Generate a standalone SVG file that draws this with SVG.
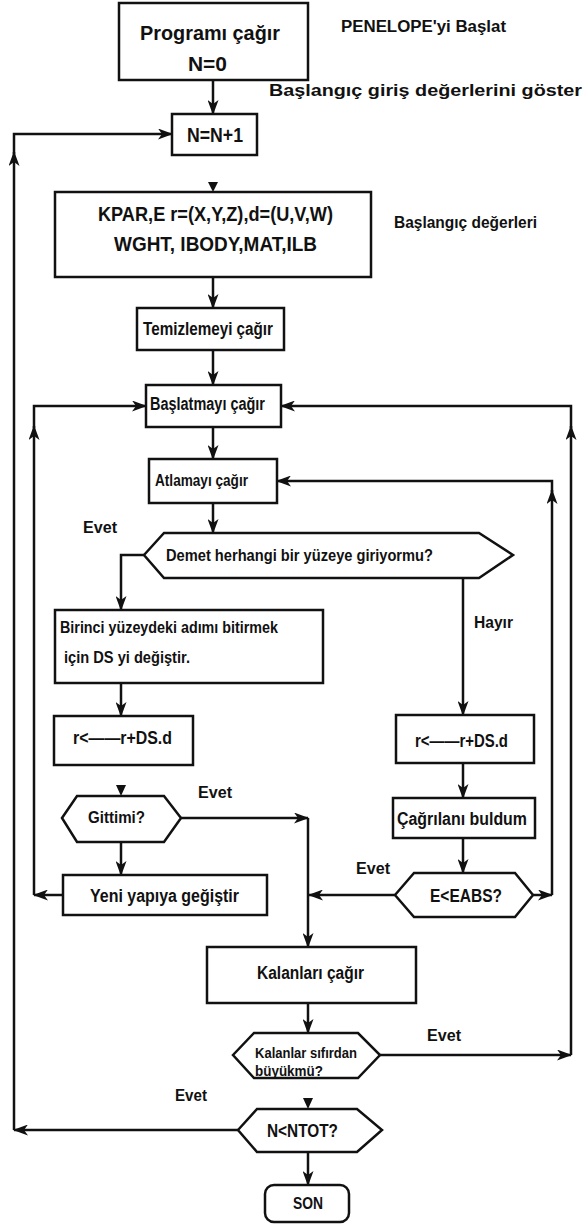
<svg xmlns="http://www.w3.org/2000/svg" width="585" height="1225" viewBox="0 0 585 1225">
<defs>
<style>
.b{fill:#fff;stroke:#111;stroke-width:2.5}
.t{font-family:"Liberation Sans",Arial,sans-serif;font-weight:bold;fill:#111}
.c{fill:none;stroke:#111;stroke-width:2.5}
.s{fill:#111}
</style>
<marker id="a" markerUnits="userSpaceOnUse" markerWidth="15" markerHeight="11" refX="14" refY="5.5" orient="auto">
<path d="M0,0 L15,5.5 L0,11 L4,5.5 Z" fill="#111"/>
</marker>
</defs>
<rect width="585" height="1225" fill="#fff"/>
<g id="connectors">
<path class="c" d="M213,80 V114" marker-end="url(#a)"/>
<path class="s" d="M208,182 H218 L213,192 Z"/>
<path class="c" d="M213,277 V308" marker-end="url(#a)"/>
<path class="c" d="M213,350 V385" marker-end="url(#a)"/>
<path class="c" d="M213,427 V459" marker-end="url(#a)"/>
<path class="c" d="M213,503 V533" marker-end="url(#a)"/>
<path class="c" d="M144,555 H121 V610" marker-end="url(#a)"/>
<path class="c" d="M121,683 V716" marker-end="url(#a)"/>
<path class="s" d="M116,785 H126 L121,796 Z"/>
<path class="c" d="M121,842 V875" marker-end="url(#a)"/>
<path class="c" d="M63,895 H34" marker-end="url(#a)"/>
<path class="c" d="M34,895 V426" marker-end="url(#a)"/>
<path class="c" d="M34,428 V406 H146" marker-end="url(#a)"/>
<path class="c" d="M181,818 H308" marker-end="url(#a)"/>
<path class="c" d="M308,818 V947" marker-end="url(#a)"/>
<path class="c" d="M463,578 V715" marker-end="url(#a)"/>
<path class="c" d="M463,763 V798" marker-end="url(#a)"/>
<path class="c" d="M463,838 V873" marker-end="url(#a)"/>
<path class="c" d="M533,895 H552" marker-end="url(#a)"/>
<path class="c" d="M552,895 V490" marker-end="url(#a)"/>
<path class="c" d="M552,492 V481 H277" marker-end="url(#a)"/>
<path class="c" d="M395,895 H309" marker-end="url(#a)"/>
<path class="c" d="M308,1003 V1033" marker-end="url(#a)"/>
<path class="c" d="M380,1055 H571" marker-end="url(#a)"/>
<path class="c" d="M571,1055 V426" marker-end="url(#a)"/>
<path class="c" d="M571,428 V406 H281" marker-end="url(#a)"/>
<path class="s" d="M303,1098 H313 L308,1109 Z"/>
<path class="c" d="M238,1130 H14" marker-end="url(#a)"/>
<path class="c" d="M14,1130 V152" marker-end="url(#a)"/>
<path class="c" d="M14,154 V134 H172" marker-end="url(#a)"/>
<path class="c" d="M308,1152 V1185" marker-end="url(#a)"/>
</g>
<g id="labels">
<text class="t" x="341" y="32" font-size="16" textLength="165" lengthAdjust="spacingAndGlyphs">PENELOPE'yi Başlat</text>
<text class="t" x="269" y="96" font-size="17" textLength="313" lengthAdjust="spacingAndGlyphs">Başlangıç giriş değerlerini göster</text>
<text class="t" x="394" y="228" font-size="17" textLength="143" lengthAdjust="spacingAndGlyphs">Başlangıç değerleri</text>
<text class="t" x="83" y="533" font-size="17" textLength="34" lengthAdjust="spacingAndGlyphs">Evet</text>
<text class="t" x="474" y="628" font-size="17" textLength="39" lengthAdjust="spacingAndGlyphs">Hayır</text>
<text class="t" x="198" y="798" font-size="17" textLength="34" lengthAdjust="spacingAndGlyphs">Evet</text>
<text class="t" x="356" y="874" font-size="17" textLength="34" lengthAdjust="spacingAndGlyphs">Evet</text>
<text class="t" x="427" y="1041" font-size="17" textLength="34" lengthAdjust="spacingAndGlyphs">Evet</text>
<text class="t" x="175" y="1101" font-size="17" textLength="32" lengthAdjust="spacingAndGlyphs">Evet</text>
</g>
<g id="n1">
<rect class="b" x="119" y="3" width="189" height="77"/>
<text class="t" x="140" y="39.5" font-size="21" textLength="140" lengthAdjust="spacingAndGlyphs">Programı çağır</text>
<text class="t" x="188" y="70.5" font-size="21" textLength="39" lengthAdjust="spacingAndGlyphs">N=0</text>
</g>
<g id="n2">
<rect class="b" x="172" y="114" width="85" height="41"/>
<text class="t" x="187" y="142" font-size="20" textLength="56" lengthAdjust="spacingAndGlyphs">N=N+1</text>
</g>
<g id="n3">
<rect class="b" x="55" y="192" width="316" height="85"/>
<text class="t" x="98" y="220.5" font-size="21" textLength="235" lengthAdjust="spacingAndGlyphs">KPAR,E r=(X,Y,Z),d=(U,V,W)</text>
<text class="t" x="114" y="250.5" font-size="21" textLength="203" lengthAdjust="spacingAndGlyphs">WGHT, IBODY,MAT,ILB</text>
</g>
<g id="n4">
<rect class="b" x="137" y="308" width="147" height="42"/>
<text class="t" x="143" y="334.5" font-size="18" textLength="130" lengthAdjust="spacingAndGlyphs">Temizlemeyi çağır</text>
</g>
<g id="n5">
<rect class="b" x="146" y="385" width="135" height="42"/>
<text class="t" x="150" y="409.5" font-size="18" textLength="115" lengthAdjust="spacingAndGlyphs">Başlatmayı çağır</text>
</g>
<g id="n6">
<rect class="b" x="149" y="459" width="128" height="44"/>
<text class="t" x="155" y="486" font-size="17" textLength="93" lengthAdjust="spacingAndGlyphs">Atlamayı çağır</text>
</g>
<g id="n7">
<polygon class="b" points="144,555 164,533 479,533 513,555 479,578 164,578"/>
<text class="t" x="166" y="561" font-size="17" textLength="267" lengthAdjust="spacingAndGlyphs">Demet herhangi bir  yüzeye giriyormu?</text>
</g>
<g id="n8">
<rect class="b" x="55" y="610" width="268" height="73"/>
<text class="t" x="60" y="633" font-size="16" textLength="218" lengthAdjust="spacingAndGlyphs">Birinci yüzeydeki adımı bitirmek</text>
<text class="t" x="64" y="663" font-size="16" textLength="126" lengthAdjust="spacingAndGlyphs">için DS yi değiştir.</text>
</g>
<g id="n9">
<rect class="b" x="54" y="716" width="139" height="49"/>
<text class="t" x="73" y="743.5" font-size="18" textLength="99" lengthAdjust="spacingAndGlyphs">r&lt;——r+DS.d</text>
</g>
<g id="n10">
<rect class="b" x="396" y="715" width="138" height="48"/>
<text class="t" x="415" y="746.5" font-size="18" textLength="93" lengthAdjust="spacingAndGlyphs">r&lt;——r+DS.d</text>
</g>
<g id="n11">
<polygon class="b" points="62,818 77,796 164,796 181,818 164,842 77,842"/>
<text class="t" x="88" y="823" font-size="17" textLength="57" lengthAdjust="spacingAndGlyphs">Gittimi?</text>
</g>
<g id="n12">
<rect class="b" x="393" y="798" width="142" height="40"/>
<text class="t" x="397" y="824.5" font-size="18" textLength="130" lengthAdjust="spacingAndGlyphs">Çağrılanı buldum</text>
</g>
<g id="n13">
<polygon class="b" points="395,895 414,873 515,873 533,895 515,917 414,917"/>
<text class="t" x="430" y="901.5" font-size="18" textLength="72" lengthAdjust="spacingAndGlyphs">E&lt;EABS?</text>
</g>
<g id="n14">
<rect class="b" x="63" y="875" width="204" height="40"/>
<text class="t" x="90" y="901.5" font-size="18" textLength="149" lengthAdjust="spacingAndGlyphs">Yeni yapıya geğiştir</text>
</g>
<g id="n15">
<rect class="b" x="207" y="947" width="209" height="56"/>
<text class="t" x="257" y="978.5" font-size="18" textLength="107" lengthAdjust="spacingAndGlyphs">Kalanları çağır</text>
</g>
<g id="n16">
<polygon class="b" points="233,1055 254,1033 358,1033 380,1055 358,1078 254,1078"/>
<text class="t" x="255" y="1057.5" font-size="15" textLength="102" lengthAdjust="spacingAndGlyphs">Kalanlar sıfırdan</text>
<text class="t" x="255" y="1075.5" font-size="15" textLength="68" lengthAdjust="spacingAndGlyphs">büyükmü?</text>
</g>
<g id="n17">
<polygon class="b" points="238,1130 257,1109 357,1109 382,1130 357,1152 257,1152"/>
<text class="t" x="267" y="1136.5" font-size="18" textLength="71" lengthAdjust="spacingAndGlyphs">N&lt;NTOT?</text>
</g>
<g id="n18">
<rect class="b" x="265" y="1185" width="84" height="37" rx="9"/>
<text class="t" x="293" y="1209" font-size="17" textLength="30" lengthAdjust="spacingAndGlyphs">SON</text>
</g>
</svg>
